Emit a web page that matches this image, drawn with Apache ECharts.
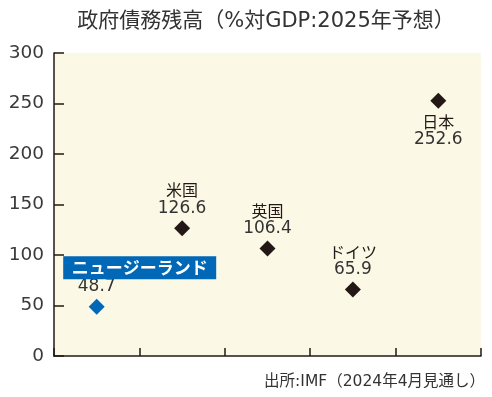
<!DOCTYPE html>
<html>
<head>
<meta charset="utf-8">
<script src="https://cdn.jsdelivr.net/npm/echarts@6/dist/echarts.min.js"></script>
<style>
html,body{margin:0;padding:0;background:#fff;}
#c{width:492px;height:397px;}
</style>
</head>
<body>
<div id="c"></div>
<script>
const categories = ['ニュージーランド', '米国', '英国', 'ドイツ', '日本'];
const values = [48.7, 126.6, 106.4, 65.9, 252.6];
const yTicks = [0, 50, 100, 150, 200, 250, 300];
const titleText = '政府債務残高（%対GDP:2025年予想）';
const sourceText = '出所:IMF（2024年4月見通し）';

const FONT = '"DejaVu Sans", "Noto Sans CJK JP", sans-serif';
const CJK = '"Noto Sans CJK JP", sans-serif';
const INK = '#231815';
const BLUE = '#0068B7';

const chart = echarts.init(document.getElementById('c'), null, {renderer: 'canvas'});

const mainData = categories.map((c, i) => {
  const isNZ = i === 0;
  const isJP = c === '日本';
  return {
    value: [c, values[i]],
    itemStyle: {color: isNZ ? BLUE : INK, opacity: 1},
    label: {
      show: true,
      position: isJP ? 'bottom' : 'top',
      distance: isJP ? 4 : 3,
      formatter: isNZ ? '{v|' + values[i] + '}' : '{n|' + c + '}\n{v|' + values[i] + '}',
      rich: {
        n: {fontFamily: CJK, fontSize: 16, color: INK, lineHeight: 18, align: 'center'},
        v: {fontFamily: FONT, fontSize: 17, color: '#333', lineHeight: 18, align: 'center'}
      }
    }
  };
});

const nzBox = [{
  value: [categories[0], values[0]],
  itemStyle: {opacity: 1},
  label: {
    show: true,
    position: 'inside',
    offset: [43, -39],
    formatter: categories[0],
    backgroundColor: BLUE,
    color: '#fff',
    fontFamily: CJK,
    fontWeight: 'bold',
    fontSize: 17,
    width: 145,
    height: 19,
    lineHeight: 19,
    align: 'center',
    padding: [3, 4, 1, 4]
  }
}];

chart.setOption({
  animation: false,
  backgroundColor: '#ffffff',
  title: {
    text: titleText,
    left: 261,
    top: 6,
    textAlign: 'center',
    textStyle: {fontFamily: FONT, fontSize: 21, fontWeight: 'normal', color: '#333'}
  },
  graphic: [{
    type: 'text',
    right: 7,
    top: 374,
    style: {text: sourceText, font: '15.5px ' + FONT, fill: '#333'}
  }],
  grid: {left: 54, right: 11, top: 53, bottom: 41, show: true, backgroundColor: '#FCF8E6', borderWidth: 0},
  xAxis: {
    type: 'category',
    data: categories,
    boundaryGap: true,
    axisLine: {show: true, lineStyle: {color: INK, width: 1.5}},
    axisTick: {show: true, inside: true, length: 8, interval: 0, lineStyle: {color: INK, width: 1.5}},
    axisLabel: {show: false, interval: 0},
    splitLine: {show: false}
  },
  yAxis: {
    type: 'value',
    min: 0,
    max: 300,
    interval: 50,
    axisLine: {show: true, lineStyle: {color: INK, width: 1.5}},
    axisTick: {show: true, inside: true, length: 10, lineStyle: {color: INK, width: 1.5}},
    axisLabel: {
      show: true,
      margin: 10,
      fontFamily: '"DejaVu Sans", sans-serif',
      fontSize: 18.5,
      color: '#3a3a3a',
      formatter: v => yTicks.includes(v) ? String(v) : ''
    },
    splitLine: {show: false}
  },
  series: [
    {
      type: 'scatter',
      symbol: 'diamond',
      symbolSize: 16,
      data: mainData,
      itemStyle: {opacity: 1},
      z: 3
    },
    {
      type: 'scatter',
      symbolSize: 0,
      data: nzBox,
      itemStyle: {opacity: 1},
      silent: true,
      z: 4
    }
  ]
});
</script>
</body>
</html>
